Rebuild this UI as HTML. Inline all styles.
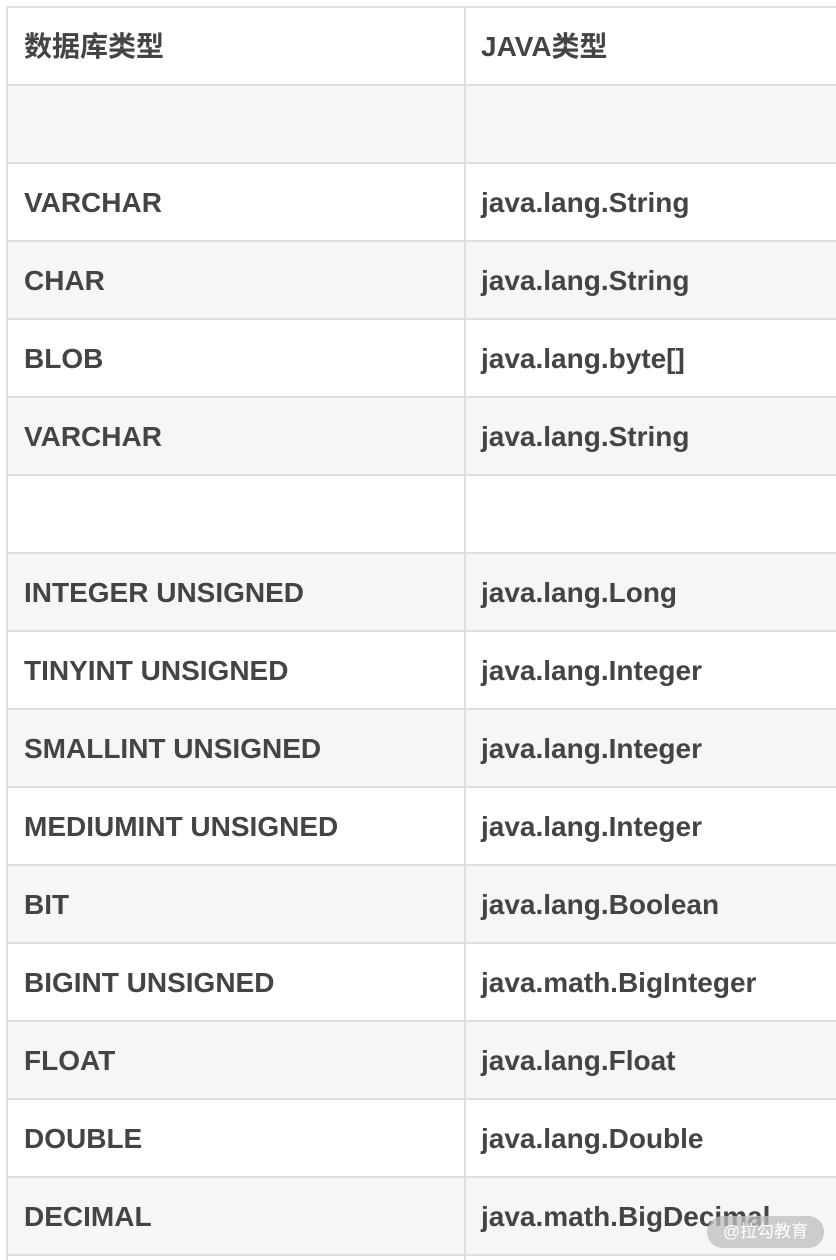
<!DOCTYPE html>
<html><head><meta charset="utf-8"><style>
html,body{margin:0;width:836px;height:1260px;overflow:hidden;}
body{background:#fff;position:relative;font-family:"Liberation Sans","Noto Sans CJK SC",sans-serif;}
.r{position:absolute;left:6px;width:830px;height:76px;border-top:2px solid #dfdfdf;}
.g{background:#f6f6f6;}
.c{position:absolute;top:1px;height:76px;line-height:76px;font-weight:bold;font-size:28px;color:#444;white-space:nowrap;}
.a{left:18px}.b{left:475px}
.v{position:absolute;left:464px;top:8px;width:2px;height:1252px;background:#dfdfdf;}
.l{position:absolute;left:6px;top:8px;width:2px;height:1252px;background:#dfdfdf;}
.w{position:absolute;left:707px;top:1216px;width:117px;height:32px;border-radius:16px;background:rgba(190,190,190,0.75);color:#fff;font-size:17px;line-height:32px;text-align:center;}
</style></head><body>
<div class="r" style="top:6px"><div class="c a">数据库类型</div><div class="c b">JAVA类型</div></div>
<div class="r g" style="top:84px"></div>
<div class="r" style="top:162px"><div class="c a">VARCHAR</div><div class="c b">java.lang.String</div></div>
<div class="r g" style="top:240px"><div class="c a">CHAR</div><div class="c b">java.lang.String</div></div>
<div class="r" style="top:318px"><div class="c a">BLOB</div><div class="c b">java.lang.byte[]</div></div>
<div class="r g" style="top:396px"><div class="c a">VARCHAR</div><div class="c b">java.lang.String</div></div>
<div class="r" style="top:474px"></div>
<div class="r g" style="top:552px"><div class="c a">INTEGER UNSIGNED</div><div class="c b">java.lang.Long</div></div>
<div class="r" style="top:630px"><div class="c a">TINYINT UNSIGNED</div><div class="c b">java.lang.Integer</div></div>
<div class="r g" style="top:708px"><div class="c a">SMALLINT UNSIGNED</div><div class="c b">java.lang.Integer</div></div>
<div class="r" style="top:786px"><div class="c a">MEDIUMINT UNSIGNED</div><div class="c b">java.lang.Integer</div></div>
<div class="r g" style="top:864px"><div class="c a">BIT</div><div class="c b">java.lang.Boolean</div></div>
<div class="r" style="top:942px"><div class="c a">BIGINT UNSIGNED</div><div class="c b">java.math.BigInteger</div></div>
<div class="r g" style="top:1020px"><div class="c a">FLOAT</div><div class="c b">java.lang.Float</div></div>
<div class="r" style="top:1098px"><div class="c a">DOUBLE</div><div class="c b">java.lang.Double</div></div>
<div class="r g" style="top:1176px"><div class="c a">DECIMAL</div><div class="c b">java.math.BigDecimal</div></div>
<div class="r" style="top:1254px;height:4px"></div>
<div class="l"></div><div class="v"></div>
<div class="w">@拉勾教育</div>
</body></html>
